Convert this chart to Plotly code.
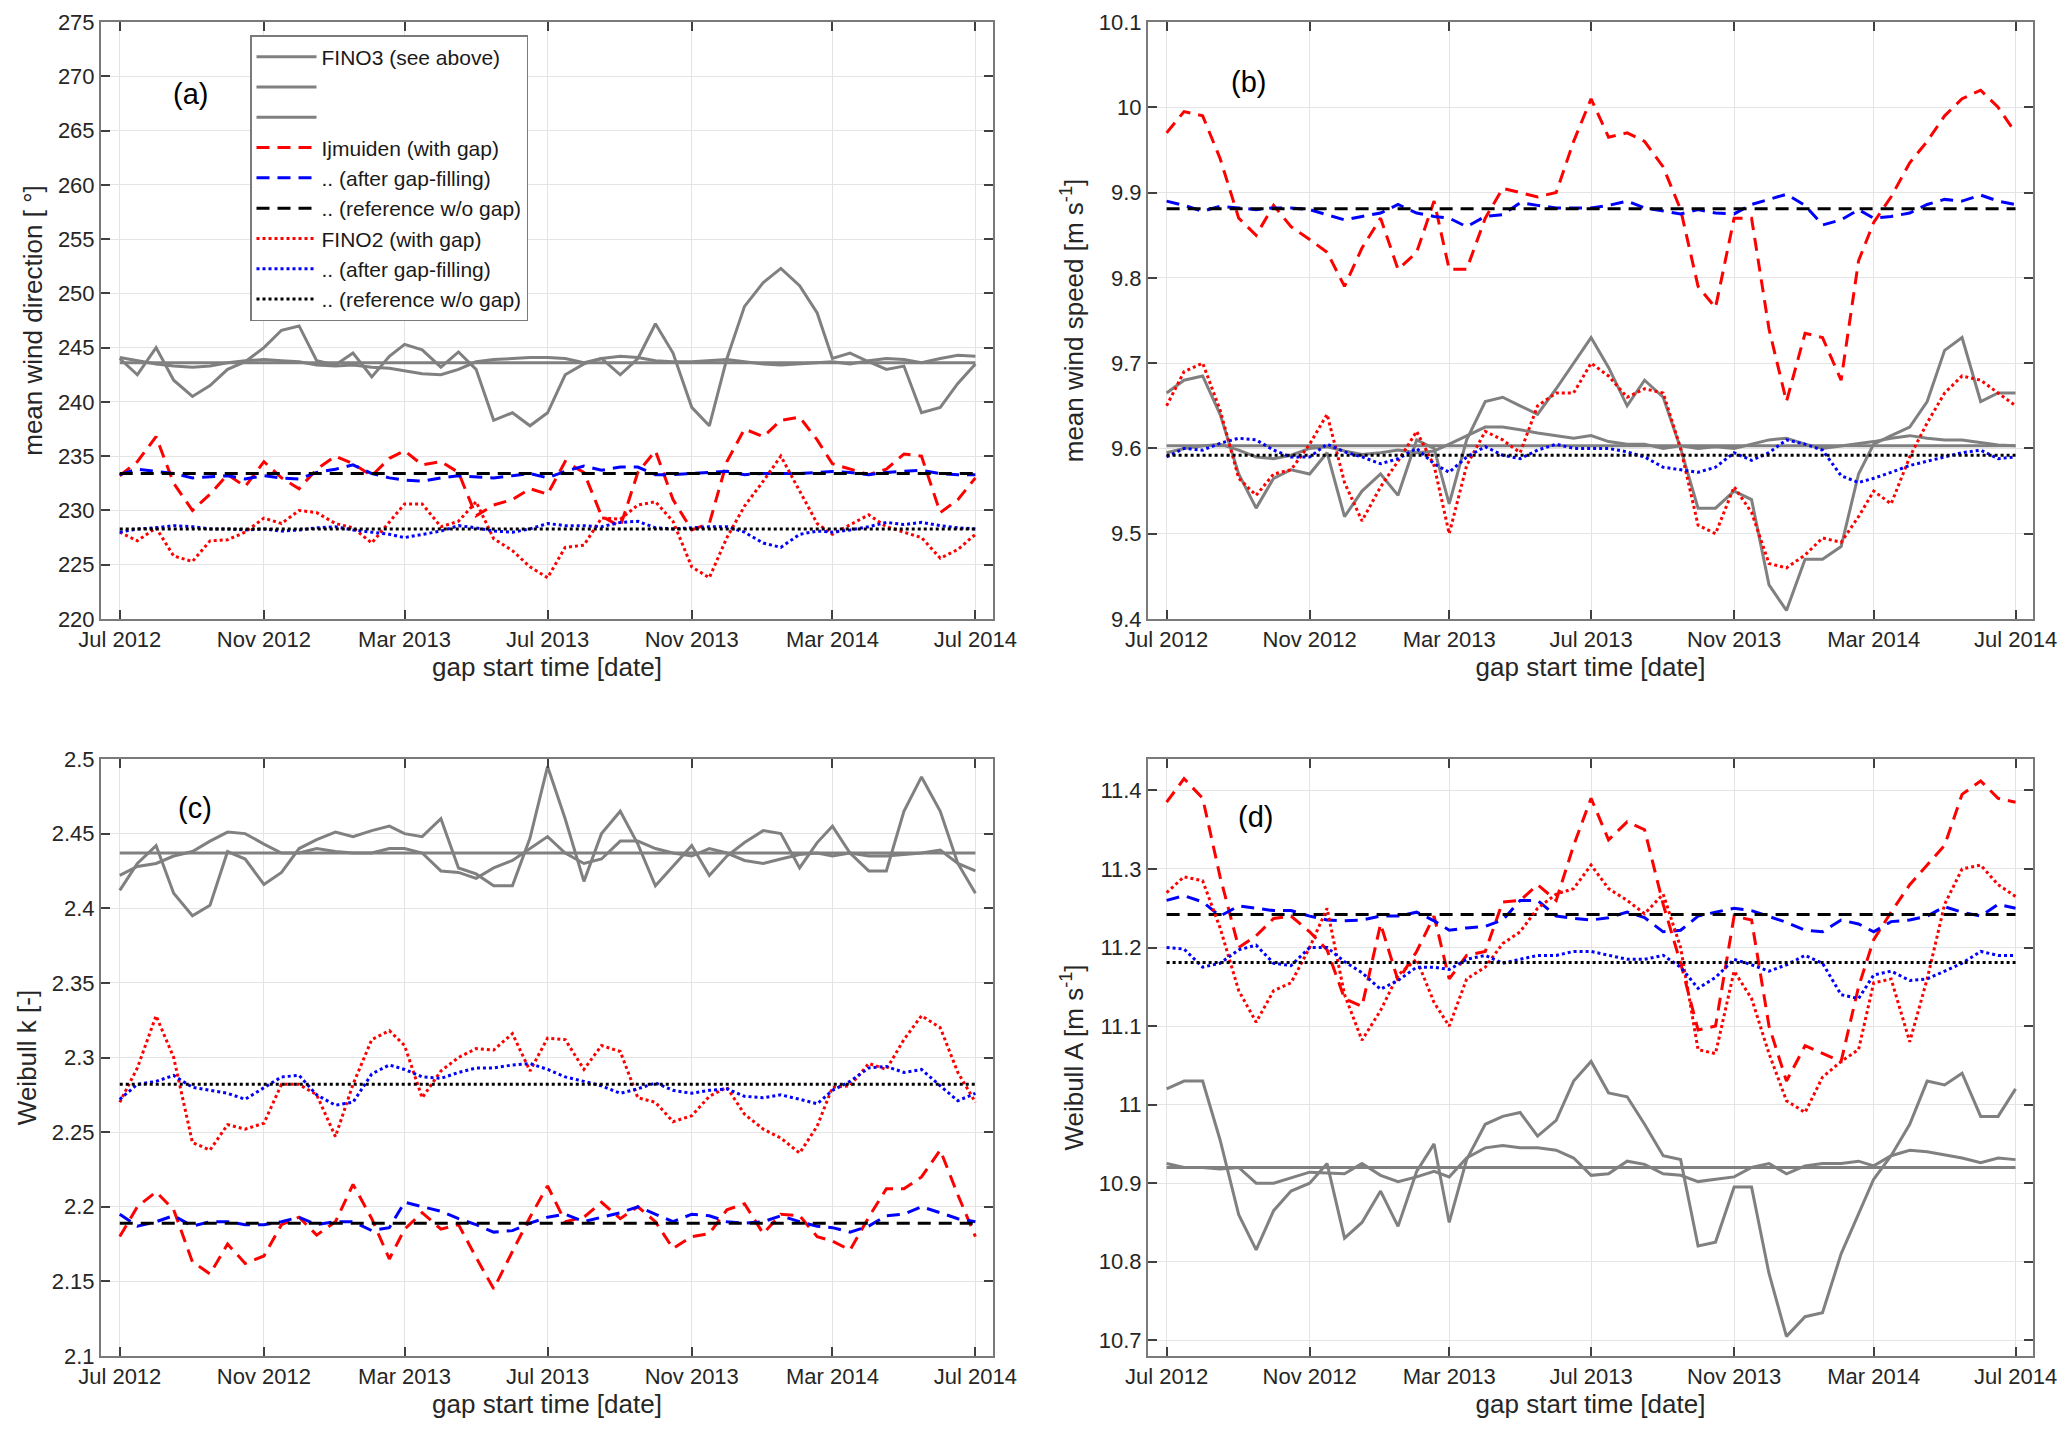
import plotly.graph_objects as go
from plotly.subplots import make_subplots

# ---------------- x categories: gap start dates (1st and 16th of each month) -------------
gap_start = [f"{2012 + (6 + k) // 12}-{(6 + k) % 12 + 1:02d}-{d:02d}"
             for k in range(24) for d in (1, 16)] + ["2014-07-01"]

x_tick_dates = ["2012-07-01", "2012-11-01", "2013-03-01", "2013-07-01",
                "2013-11-01", "2014-03-01", "2014-07-01"]
x_tick_labels = ["Jul 2012", "Nov 2012", "Mar 2013", "Jul 2013",
                 "Nov 2013", "Mar 2014", "Jul 2014"]

# ---------------- (a) mean wind direction [deg] ----------------
dir_fino3_gap = [244.0, 242.5, 245.0, 242.0, 240.5, 241.5, 243.0, 243.7, 245.0, 246.6,
                 247.0, 243.8, 243.4, 244.5, 242.3, 244.2, 245.3, 244.8, 243.2, 244.6,
                 243.0, 238.3, 239.0, 237.8, 239.0, 242.5, 243.5, 244.0, 242.5, 244.0,
                 247.2, 244.5, 239.5, 237.8, 244.0, 248.8, 251.0, 252.3, 250.7, 248.2,
                 244.0, 244.5, 243.7, 243.0, 243.3, 239.0, 239.5, 241.7, 243.5]
dir_fino3_fill = [244.1, 243.8, 243.5, 243.3, 243.2, 243.3, 243.6, 243.8, 243.9, 243.8,
                  243.7, 243.4, 243.3, 243.4, 243.2, 243.1, 242.9, 242.6, 242.5, 243.0,
                  243.7, 243.9, 244.0, 244.1, 244.1, 244.0, 243.6, 244.0, 244.2, 244.1,
                  243.8, 243.7, 243.7, 243.8, 243.9, 243.7, 243.5, 243.4, 243.5, 243.6,
                  243.7, 243.5, 243.8, 244.0, 243.9, 243.6, 244.0, 244.3, 244.2]
dir_fino3_ref = 243.6
dir_ijm_gap = [233.2, 234.5, 236.8, 232.5, 230.0, 231.5, 233.3, 232.2, 234.5, 233.0,
               232.0, 233.8, 235.0, 234.3, 233.2, 234.8, 235.5, 234.2, 234.5, 233.5,
               229.5, 230.5, 231.0, 232.0, 231.5, 234.5, 233.5, 229.5, 228.5, 233.5,
               235.5, 231.0, 228.2, 228.8, 234.5, 237.5, 236.8, 238.3, 238.6, 236.5,
               234.3, 233.8, 233.3, 233.8, 235.2, 235.0, 229.8, 231.0, 233.0]
dir_ijm_fill = [233.3, 233.8, 233.6, 233.4, 233.0, 233.1, 233.2, 232.9, 233.2, 233.0,
                232.9, 233.5, 233.8, 234.2, 233.4, 233.0, 232.8, 232.7, 233.0, 233.2,
                233.1, 233.0, 233.2, 233.4, 233.0, 233.6, 234.1, 233.7, 234.0, 234.0,
                233.3, 233.3, 233.4, 233.5, 233.6, 233.3, 233.4, 233.4, 233.4, 233.5,
                233.6, 233.5, 233.3, 233.5, 233.6, 233.7, 233.4, 233.3, 233.3]
dir_ijm_ref = 233.4
dir_fino2_gap = [228.0, 227.2, 228.4, 225.8, 225.3, 227.2, 227.3, 228.0, 229.3, 228.8,
                 230.0, 229.8, 228.8, 228.4, 227.0, 228.9, 230.6, 230.6, 228.5, 229.0,
                 230.8, 227.4, 226.3, 224.8, 223.8, 226.6, 226.8, 229.3, 229.2, 230.5,
                 230.8, 229.0, 224.8, 223.8, 227.5, 230.4, 232.7, 235.0, 231.8, 228.8,
                 227.8, 228.7, 229.6, 228.5, 228.0, 227.5, 225.6, 226.4, 227.8]
dir_fino2_fill = [228.0, 228.3, 228.4, 228.6, 228.5, 228.3, 228.3, 228.2, 228.3, 228.1,
                  228.2, 228.4, 228.5, 228.2, 228.0, 227.8, 227.5, 227.8, 228.1, 228.6,
                  228.4, 228.1, 228.0, 228.3, 228.8, 228.6, 228.6, 228.5, 228.9, 229.0,
                  228.4, 228.3, 228.4, 228.5, 228.5, 228.0, 227.0, 226.6, 227.8, 228.1,
                  228.0, 228.2, 228.5, 228.9, 228.7, 228.9, 228.6, 228.4, 228.3]
dir_fino2_ref = 228.3

# ---------------- (b) mean wind speed [m/s] ----------------
spd_fino3_gap = [9.665, 9.68, 9.685, 9.64, 9.57, 9.53, 9.565, 9.575, 9.57, 9.595,
                 9.52, 9.55, 9.57, 9.545, 9.61, 9.60, 9.535, 9.61, 9.655, 9.66,
                 9.65, 9.64, 9.67, 9.70, 9.73, 9.695, 9.65, 9.68, 9.66, 9.60,
                 9.53, 9.53, 9.55, 9.54, 9.44, 9.41, 9.47, 9.47, 9.485, 9.57,
                 9.605, 9.615, 9.625, 9.655, 9.715, 9.73, 9.655, 9.665, 9.665]
spd_fino3_fill = [9.595, 9.60, 9.603, 9.605, 9.598, 9.59, 9.588, 9.592, 9.60, 9.602,
                  9.597, 9.593, 9.595, 9.598, 9.595, 9.597, 9.605, 9.615, 9.625, 9.625,
                  9.622, 9.618, 9.615, 9.612, 9.615, 9.608, 9.605, 9.605, 9.60, 9.603,
                  9.60, 9.602, 9.60, 9.605, 9.61, 9.612, 9.605, 9.60, 9.603, 9.605,
                  9.608, 9.612, 9.615, 9.612, 9.61, 9.61, 9.607, 9.604, 9.603]
spd_fino3_ref = 9.603
spd_ijm_gap = [9.97, 9.995, 9.99, 9.94, 9.87, 9.85, 9.885, 9.86, 9.845, 9.83,
               9.79, 9.835, 9.87, 9.81, 9.83, 9.89, 9.81, 9.81, 9.87, 9.905,
               9.90, 9.895, 9.90, 9.96, 10.01, 9.965, 9.97, 9.96, 9.93, 9.88,
               9.79, 9.765, 9.87, 9.87, 9.74, 9.655, 9.735, 9.73, 9.68, 9.82,
               9.865, 9.895, 9.935, 9.96, 9.99, 10.01, 10.02, 10.0, 9.97]
spd_ijm_fill = [9.89, 9.885, 9.878, 9.884, 9.882, 9.880, 9.882, 9.882, 9.880, 9.874,
                9.868, 9.872, 9.876, 9.886, 9.876, 9.872, 9.870, 9.860, 9.872, 9.874,
                9.888, 9.885, 9.882, 9.882, 9.882, 9.885, 9.890, 9.882, 9.878, 9.875,
                9.880, 9.876, 9.875, 9.886, 9.892, 9.898, 9.885, 9.862, 9.868, 9.880,
                9.870, 9.872, 9.876, 9.886, 9.892, 9.890, 9.897, 9.890, 9.886]
spd_ijm_ref = 9.881
spd_fino2_gap = [9.65, 9.69, 9.70, 9.645, 9.565, 9.545, 9.57, 9.575, 9.605, 9.64,
                 9.56, 9.515, 9.555, 9.585, 9.62, 9.58, 9.50, 9.58, 9.62, 9.61,
                 9.595, 9.65, 9.665, 9.665, 9.70, 9.685, 9.66, 9.67, 9.665, 9.60,
                 9.51, 9.50, 9.555, 9.525, 9.465, 9.46, 9.475, 9.495, 9.49, 9.52,
                 9.55, 9.535, 9.59, 9.63, 9.665, 9.685, 9.68, 9.665, 9.65]
spd_fino2_fill = [9.59, 9.60, 9.598, 9.606, 9.612, 9.61, 9.598, 9.59, 9.59, 9.605,
                  9.596, 9.59, 9.582, 9.588, 9.60, 9.582, 9.572, 9.59, 9.602, 9.592,
                  9.588, 9.598, 9.605, 9.60, 9.60, 9.60, 9.596, 9.59, 9.578, 9.575,
                  9.572, 9.578, 9.595, 9.586, 9.595, 9.61, 9.605, 9.598, 9.568, 9.56,
                  9.565, 9.572, 9.58, 9.585, 9.59, 9.595, 9.598, 9.588, 9.59]
spd_fino2_ref = 9.592

# ---------------- (c) Weibull k [-] ----------------
k_fino3_gap = [2.412, 2.43, 2.442, 2.41, 2.395, 2.402, 2.438, 2.433, 2.416, 2.424,
               2.44, 2.446, 2.451, 2.448, 2.452, 2.455, 2.45, 2.448, 2.46, 2.427,
               2.423, 2.415, 2.415, 2.447, 2.495, 2.46, 2.418, 2.45, 2.465, 2.443,
               2.415, 2.428, 2.442, 2.422, 2.435, 2.444, 2.452, 2.45, 2.427, 2.444,
               2.455, 2.437, 2.425, 2.425, 2.465, 2.488, 2.465, 2.43, 2.41]
k_fino3_fill = [2.422, 2.428, 2.43, 2.435, 2.438, 2.445, 2.451, 2.45, 2.443, 2.437,
                2.437, 2.44, 2.438, 2.437, 2.437, 2.44, 2.44, 2.437, 2.425, 2.424,
                2.42, 2.427, 2.432, 2.44, 2.448, 2.437, 2.43, 2.433, 2.445, 2.445,
                2.44, 2.437, 2.435, 2.44, 2.437, 2.432, 2.43, 2.433, 2.436, 2.437,
                2.435, 2.437, 2.435, 2.435, 2.436, 2.437, 2.439, 2.43, 2.425]
k_fino3_ref = 2.437
k_ijm_gap = [2.18, 2.20, 2.21, 2.198, 2.163, 2.155, 2.175, 2.162, 2.167, 2.188,
             2.193, 2.181, 2.19, 2.215, 2.192, 2.165, 2.185, 2.196, 2.185, 2.188,
             2.166, 2.145, 2.17, 2.193, 2.214, 2.19, 2.193, 2.203, 2.192, 2.20,
             2.19, 2.172, 2.18, 2.182, 2.198, 2.202, 2.182, 2.195, 2.194, 2.18,
             2.177, 2.171, 2.193, 2.212, 2.212, 2.22, 2.238, 2.208, 2.18]
k_ijm_fill = [2.195, 2.187, 2.19, 2.194, 2.187, 2.19, 2.19, 2.188, 2.188, 2.19,
              2.193, 2.188, 2.19, 2.19, 2.184, 2.186, 2.203, 2.2, 2.197, 2.192,
              2.188, 2.183, 2.184, 2.189, 2.193, 2.195, 2.19, 2.193, 2.196, 2.2,
              2.195, 2.19, 2.195, 2.194, 2.19, 2.189, 2.19, 2.194, 2.19, 2.187,
              2.186, 2.183, 2.187, 2.194, 2.195, 2.2, 2.196, 2.192, 2.19]
k_ijm_ref = 2.189
k_fino2_gap = [2.27, 2.293, 2.328, 2.30, 2.243, 2.238, 2.255, 2.252, 2.256, 2.282,
               2.282, 2.275, 2.247, 2.282, 2.312, 2.318, 2.308, 2.273, 2.291, 2.30,
               2.306, 2.305, 2.316, 2.291, 2.313, 2.312, 2.292, 2.308, 2.304, 2.273,
               2.27, 2.257, 2.261, 2.274, 2.28, 2.262, 2.252, 2.246, 2.236, 2.254,
               2.28, 2.281, 2.296, 2.292, 2.312, 2.328, 2.32, 2.29, 2.27]
k_fino2_fill = [2.272, 2.282, 2.284, 2.288, 2.28, 2.278, 2.276, 2.272, 2.28, 2.287,
                2.288, 2.275, 2.268, 2.27, 2.289, 2.295, 2.292, 2.287, 2.286, 2.29,
                2.293, 2.293, 2.295, 2.296, 2.292, 2.287, 2.284, 2.281, 2.276, 2.279,
                2.283, 2.278, 2.276, 2.278, 2.279, 2.274, 2.273, 2.275, 2.272, 2.269,
                2.278, 2.284, 2.293, 2.294, 2.29, 2.292, 2.281, 2.271, 2.276]
k_fino2_ref = 2.282

# ---------------- (d) Weibull A [m/s] ----------------
A_fino3_gap = [11.02, 11.03, 11.03, 10.955, 10.86, 10.815, 10.865, 10.89, 10.90, 10.925,
               10.83, 10.85, 10.89, 10.845, 10.915, 10.95, 10.85, 10.93, 10.975, 10.985,
               10.99, 10.96, 10.98, 11.03, 11.055, 11.015, 11.01, 10.975, 10.935, 10.93,
               10.82, 10.825, 10.895, 10.895, 10.785, 10.705, 10.73, 10.735, 10.81, 10.86,
               10.905, 10.935, 10.975, 11.03, 11.025, 11.04, 10.985, 10.985, 11.02]
A_fino3_fill = [10.925, 10.92, 10.92, 10.918, 10.92, 10.90, 10.90, 10.907, 10.914, 10.913,
                10.912, 10.925, 10.91, 10.902, 10.908, 10.915, 10.908, 10.932, 10.945, 10.948,
                10.945, 10.945, 10.942, 10.932, 10.91, 10.912, 10.928, 10.924, 10.912, 10.91,
                10.902, 10.905, 10.908, 10.92, 10.925, 10.912, 10.922, 10.925, 10.925, 10.928,
                10.922, 10.935, 10.942, 10.94, 10.936, 10.932, 10.926, 10.932, 10.93]
A_fino3_ref = 10.92
A_ijm_gap = [11.385, 11.415, 11.39, 11.29, 11.20, 11.215, 11.237, 11.24, 11.22, 11.197,
             11.135, 11.125, 11.23, 11.158, 11.195, 11.24, 11.16, 11.19, 11.195, 11.258,
             11.26, 11.28, 11.26, 11.33, 11.39, 11.337, 11.36, 11.35, 11.255, 11.18,
             11.095, 11.10, 11.24, 11.235, 11.10, 11.03, 11.075, 11.065, 11.055, 11.15,
             11.21, 11.245, 11.28, 11.305, 11.33, 11.395, 11.412, 11.39, 11.385]
A_ijm_fill = [11.26, 11.266, 11.258, 11.24, 11.253, 11.25, 11.247, 11.247, 11.24, 11.235,
              11.234, 11.235, 11.24, 11.24, 11.245, 11.234, 11.222, 11.225, 11.227, 11.235,
              11.26, 11.26, 11.24, 11.237, 11.235, 11.238, 11.245, 11.238, 11.22, 11.222,
              11.24, 11.245, 11.25, 11.247, 11.24, 11.232, 11.222, 11.22, 11.235, 11.23,
              11.22, 11.233, 11.235, 11.24, 11.252, 11.245, 11.24, 11.255, 11.25]
A_ijm_ref = 11.242
A_fino2_gap = [11.27, 11.29, 11.285, 11.225, 11.145, 11.105, 11.145, 11.155, 11.20, 11.25,
               11.14, 11.082, 11.12, 11.165, 11.185, 11.13, 11.10, 11.16, 11.175, 11.205,
               11.22, 11.25, 11.268, 11.275, 11.305, 11.275, 11.26, 11.243, 11.268, 11.20,
               11.07, 11.065, 11.17, 11.135, 11.065, 11.005, 10.99, 11.035, 11.055, 11.07,
               11.155, 11.16, 11.08, 11.16, 11.255, 11.30, 11.305, 11.28, 11.265]
A_fino2_fill = [11.20, 11.198, 11.175, 11.18, 11.197, 11.203, 11.18, 11.177, 11.2, 11.2,
                11.182, 11.168, 11.147, 11.158, 11.175, 11.175, 11.172, 11.185, 11.19, 11.18,
                11.185, 11.19, 11.19, 11.195, 11.195, 11.19, 11.185, 11.185, 11.19, 11.175,
                11.148, 11.162, 11.185, 11.178, 11.17, 11.178, 11.19, 11.18, 11.14, 11.135,
                11.165, 11.17, 11.158, 11.16, 11.17, 11.18, 11.195, 11.19, 11.19]
A_fino2_ref = 11.181

legend_names = ["FINO3 (see above)", " ", "  ",
                "Ijmuiden (with gap)", ".. (after gap-filling)", ".. (reference w/o gap)",
                "FINO2 (with gap)", ".. (after gap-filling)", ".. (reference w/o gap)"]

GRAY, RED, BLUE, BLACK = "#808080", "#ff0000", "#0000ff", "#000000"
DASH = "13px,8px"
DOT = "3px,3px"

fig = make_subplots(rows=2, cols=2)


def add_panel(row, col, f3_gap, f3_fill, f3_ref, ij_gap, ij_fill, ij_ref,
              f2_gap, f2_fill, f2_ref, show):
    n = len(gap_start)
    series = [
        (f3_ref, GRAY, None),
        (f3_gap, GRAY, None),
        (f3_fill, GRAY, None),
        (ij_gap, RED, DASH),
        (ij_fill, BLUE, DASH),
        (ij_ref, BLACK, DASH),
        (f2_gap, RED, DOT),
        (f2_fill, BLUE, DOT),
        (f2_ref, BLACK, DOT),
    ]
    for name, (vals, color, dash) in zip(legend_names, series):
        y = vals if isinstance(vals, list) else [vals] * n
        line = dict(color=color, width=3)
        if dash:
            line["dash"] = dash
        fig.add_trace(go.Scatter(x=gap_start, y=y, mode="lines", name=name,
                                 line=line, showlegend=show, hoverinfo="skip"),
                      row=row, col=col)


add_panel(1, 1, dir_fino3_gap, dir_fino3_fill, dir_fino3_ref, dir_ijm_gap, dir_ijm_fill,
          dir_ijm_ref, dir_fino2_gap, dir_fino2_fill, dir_fino2_ref, True)
add_panel(1, 2, spd_fino3_gap, spd_fino3_fill, spd_fino3_ref, spd_ijm_gap, spd_ijm_fill,
          spd_ijm_ref, spd_fino2_gap, spd_fino2_fill, spd_fino2_ref, False)
add_panel(2, 1, k_fino3_gap, k_fino3_fill, k_fino3_ref, k_ijm_gap, k_ijm_fill,
          k_ijm_ref, k_fino2_gap, k_fino2_fill, k_fino2_ref, False)
add_panel(2, 2, A_fino3_gap, A_fino3_fill, A_fino3_ref, A_ijm_gap, A_ijm_fill,
          A_ijm_ref, A_fino2_gap, A_fino2_fill, A_fino2_ref, False)

W, H = 2067, 1429
xdom = {1: [101 / W, 993 / W], 2: [1148 / W, 2033 / W]}
ydom = {1: [1 - 619 / H, 1 - 22 / H], 2: [1 - 1356 / H, 1 - 759 / H]}

tick_font = dict(family="Arial", size=22, color="#262626")
title_font = dict(family="Arial", size=26, color="#262626")
axis_common = dict(showline=True, linecolor="#7a7a7a", linewidth=2, mirror="ticks",
                   ticks="inside", ticklen=9, tickwidth=1.5, tickcolor="#404040",
                   showgrid=True, gridcolor="#e4e4e4", gridwidth=1, zeroline=False,
                   tickfont=tick_font, automargin=False)

y_specs = {
    (1, 1): dict(range=[220, 275], tick0=220, dtick=5, title="mean wind direction [ °]"),
    (1, 2): dict(range=[9.4, 10.1], tick0=9.4, dtick=0.1, title="mean wind speed [m s<sup>-1</sup>]"),
    (2, 1): dict(range=[2.1, 2.5], tick0=2.1, dtick=0.05, title="Weibull k [-]"),
    (2, 2): dict(range=[10.68, 11.44], tick0=10.7, dtick=0.1, title="Weibull A [m s<sup>-1</sup>]"),
}

for (r, c), spec in y_specs.items():
    fig.update_xaxes(row=r, col=c, domain=xdom[c], type="date",
                     range=["2012-06-15", "2014-07-16"],
                     tickmode="array", tickvals=x_tick_dates, ticktext=x_tick_labels,
                     title=dict(text="gap start time [date]", font=title_font, standoff=6),
                     **axis_common)
    fig.update_yaxes(row=r, col=c, domain=ydom[r], range=spec["range"],
                     tick0=spec["tick0"], dtick=spec["dtick"],
                     title=dict(text=spec["title"], font=title_font, standoff=8),
                     **axis_common)

panel_labels = [("(a)", "x domain", "y domain", 0.10, 0.879),
                ("(b)", "x2 domain", "y2 domain", 0.113, 0.90),
                ("(c)", "x3 domain", "y3 domain", 0.105, 0.918),
                ("(d)", "x4 domain", "y4 domain", 0.122, 0.903)]
for txt, xr, yr, xx, yy in panel_labels:
    fig.add_annotation(text=txt, xref=xr, yref=yr, x=xx, y=yy, showarrow=False,
                       xanchor="center", yanchor="middle",
                       font=dict(family="Arial", size=29, color="#000000"))

fig.update_layout(
    width=W, height=H, margin=dict(l=0, r=0, t=0, b=0),
    paper_bgcolor="white", plot_bgcolor="white",
    legend=dict(x=250 / W, y=1 - 35 / H, xanchor="left", yanchor="top",
                bgcolor="white", bordercolor="#7a7a7a", borderwidth=1.5,
                font=dict(family="Arial", size=21, color="#1a1a1a"),
                tracegroupgap=0, itemwidth=60),
)

fig.write_html("out.html", config={"displayModeBar": False},
               post_script="document.body.style.margin='0';document.body.style.overflow='hidden';")
